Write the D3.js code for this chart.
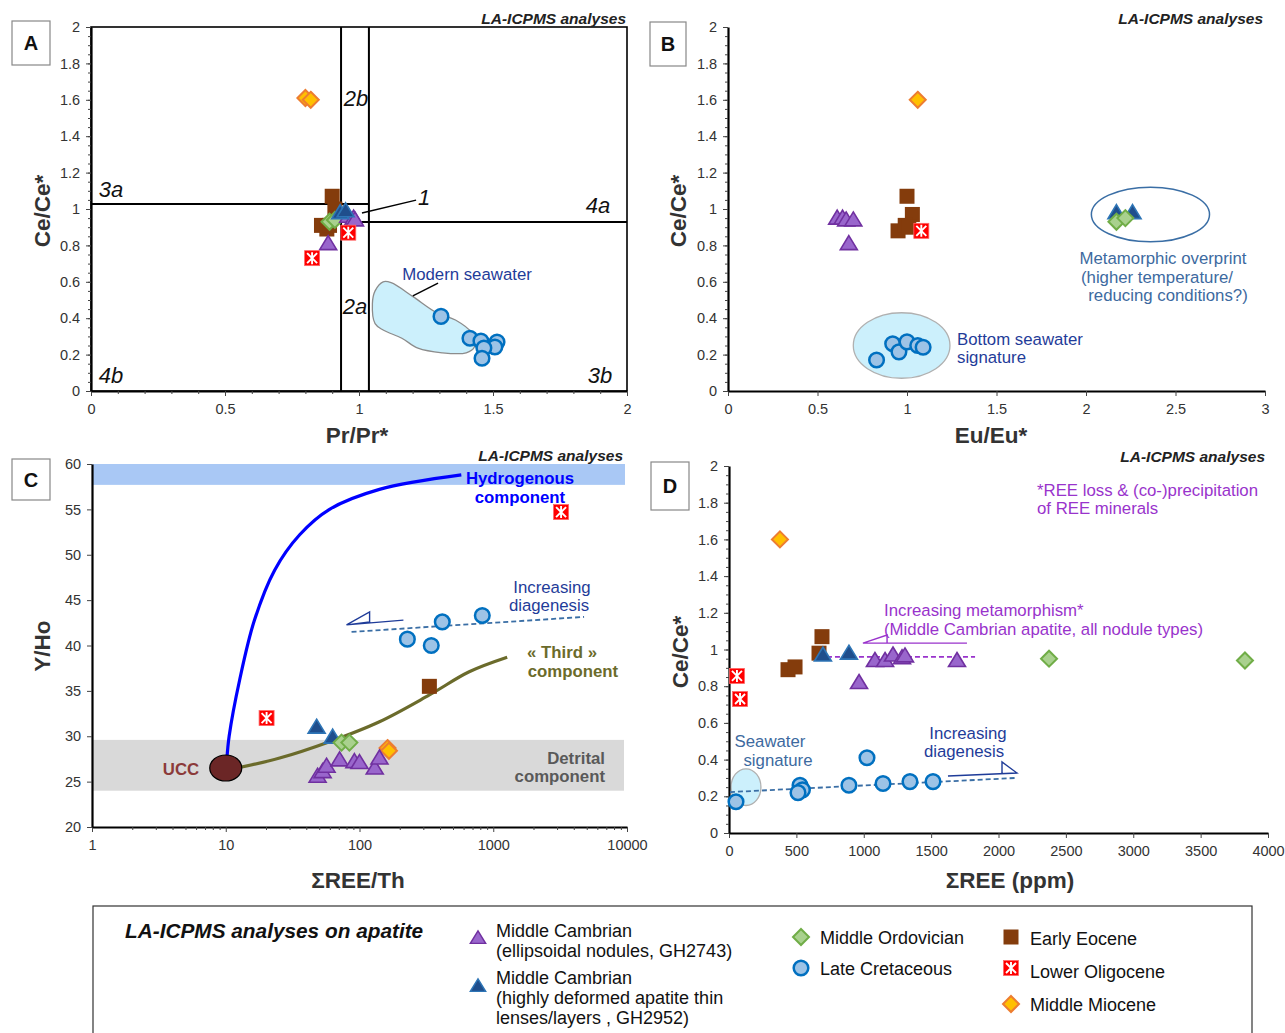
<!DOCTYPE html>
<html><head><meta charset="utf-8">
<script src="https://cdn.jsdelivr.net/npm/d3@7"></script>
<style>body{margin:0;background:#fff}text{font-family:"Liberation Sans",Arial,sans-serif}</style>
</head><body><svg id="c" width="1285" height="1033"></svg>
<script>
// ---------- DATA ----------
// Panel A: Pr/Pr* vs Ce/Ce*
const A_eocene = [[0.90,1.07],[0.91,1.00],[0.86,0.91],[0.88,0.89],[0.89,0.91]];
const A_ordov = [[0.89,0.93],[0.91,0.94]];
const A_camb1 = [[0.96,0.96],[0.98,0.95],[0.985,0.94],[0.885,0.81]];
const A_camb2 = [[0.93,0.98],[0.95,0.99]];
const A_olig = [[0.96,0.87],[0.825,0.73]];
const A_mioc = [[0.80,1.61],[0.82,1.60]];
const A_cret = [[1.306,0.41],[1.414,0.29],[1.455,0.275],[1.515,0.269],[1.507,0.242],[1.466,0.236],[1.459,0.18]];
const A_seawaterArea = [[1.09,0.60],[1.12,0.595],[1.20,0.52],[1.29,0.43],[1.36,0.39],[1.42,0.32],[1.43,0.24],[1.40,0.21],[1.31,0.21],[1.22,0.235],[1.16,0.29],[1.09,0.335],[1.06,0.37],[1.05,0.48],[1.06,0.55]];
const A_vLines = [0.933,1.037];
const A_hLines = [[0,1.037,1.027],[0.933,2,0.929]];
const A_ticksX = [0,0.5,1,1.5,2];
const A_ticksY = [0,0.2,0.4,0.6,0.8,1,1.2,1.4,1.6,1.8,2];

// Panel B: Eu/Eu* vs Ce/Ce*
const B_camb1 = [[0.61,0.95],[0.64,0.95],[0.66,0.94],[0.70,0.94],[0.675,0.81]];
const B_eocene = [[1.0,1.07],[1.03,0.97],[0.95,0.88],[0.99,0.91],[1.01,0.90]];
const B_olig = [[1.08,0.88]];
const B_mioc = [[1.06,1.60]];
const B_cret = [[0.83,0.17],[0.92,0.26],[0.955,0.215],[1.0,0.27],[1.06,0.25],[1.09,0.24]];
const B_camb2 = [[2.17,0.98],[2.26,0.98]];
const B_ordov = [[2.17,0.93],[2.22,0.95]];
const B_seawaterEllipse = [0.97,0.25,0.27,0.18];
const B_metaEllipse = [2.36,0.97,0.33,0.15];
const B_ticksX = [0,0.5,1,1.5,2,2.5,3];
const B_ticksY = A_ticksY;

// Panel C: ΣREE/Th vs Y/Ho
const C_olig = [[20.2,32.0],[3215,54.7]];
const C_eocene = [[333,35.5]];
const C_cret = [[228,40.7],[344,40.0],[416,42.6],[828,43.3]];
const C_camb2 = [[47.8,31.0],[63,29.9]];
const C_ordov = [[73.4,29.3],[84,29.3]];
const C_mioc = [[162,28.7],[166,28.4]];
const C_camb1 = [[48.6,25.6],[53,26.1],[56.7,26.7],[71,27.4],[91.6,27.2],[100,27.1],[130,26.5],[141,27.6]];
const C_hydroCurve = [[10.2,27.5],[10.6,30],[12.7,36.2],[16.4,42.8],[23.2,48.3],[35.7,52.2],[59.7,55.0],[141,57.2],[577,58.8]];
const C_thirdCurve = [[12.1,26.5],[25.3,27.6],[59.7,29.4],[141,31.6],[333,34.55],[661,37.1],[1271,38.7]];
const C_ucc = [10,26.5];
const C_hydroBand = [57.7,60];
const C_detritalBand = [24.0,29.6];
const C_diagDash = [[87.2,41.5],[4776,43.15]];
const C_diagArrow = [[213,42.8],[80,42.27],[119,43.7],[119,42.6],[80,42.27]];
const C_ticksX = [1,10,100,1000,10000];
const C_ticksY = [20,25,30,35,40,45,50,55,60];

// Panel D: ΣREE (ppm) vs Ce/Ce*
const D_mioc = [[378,1.60]];
const D_olig = [[59,0.856],[82,0.73]];
const D_eocene = [[690,1.07],[668,0.98],[438,0.89],[490,0.905]];
const D_camb2 = [[697,0.97],[890,0.98]];
const D_camb1 = [[965,0.82],[1083,0.94],[1158,0.94],[1217,0.97],[1284,0.955],[1306,0.965],[1692,0.94]];
const D_ordov = [[2375,0.95],[3829,0.94]];
const D_cret = [[52,0.17],[527,0.26],[545,0.235],[512,0.22],[890,0.26],[1143,0.27],[1343,0.28],[1514,0.28],[1024,0.41]];
const D_seawaterEllipse = [126,0.25,111,0.10];
const D_metaDash = [[727,0.96],[1826,0.96]];
const D_metaArrow = [[1766,1.035],[994,1.035],[1173,1.079],[1173,1.035]];
const D_diagDash = [[7,0.223],[2130,0.30]];
const D_diagArrow = [[1625,0.311],[2137,0.327],[2026,0.387],[2026,0.322]];
const D_ticksX = [0,500,1000,1500,2000,2500,3000,3500,4000];
const D_ticksY = A_ticksY;

// Legend
const legendItems = [
  {t:'camb1', lines:['Middle Cambrian','(ellipsoidal nodules, GH2743)']},
  {t:'camb2', lines:['Middle Cambrian','(highly deformed apatite thin','lenses/layers , GH2952)']},
  {t:'ordov', lines:['Middle Ordovician']},
  {t:'cret', lines:['Late Cretaceous']},
  {t:'eocene', lines:['Early Eocene']},
  {t:'olig', lines:['Lower Oligocene']},
  {t:'mioc', lines:['Middle Miocene']}
];

// ---------- DRAWING ----------
const svg = d3.select('#c');
const TXT = '#333';
const ANN = 16.8, AXT = 22.5, TTL = 15.5;

function marker(g, type, x, y, s=1) {
  const t = `translate(${x},${y}) scale(${s})`;
  if (type==='camb1') g.append('path').attr('d','M0,-8L8.5,6L-8.5,6Z').attr('transform',t).attr('fill','#9966cc').attr('stroke','#7030a0').attr('stroke-width',1.6);
  else if (type==='camb2') g.append('path').attr('d','M0,-8L8.5,6L-8.5,6Z').attr('transform',t).attr('fill','#1f4e8c').attr('stroke','#2e75b6').attr('stroke-width',1.6);
  else if (type==='ordov') g.append('path').attr('d','M0,-8L8,0L0,8L-8,0Z').attr('transform',t).attr('fill','#a9d18e').attr('stroke','#70ad47').attr('stroke-width',2);
  else if (type==='mioc') g.append('path').attr('d','M0,-8L8,0L0,8L-8,0Z').attr('transform',t).attr('fill','#ffc000').attr('stroke','#ed7d31').attr('stroke-width',2);
  else if (type==='cret') g.append('circle').attr('transform',t).attr('r',7.3).attr('fill','#9dc3e6').attr('stroke','#0070c0').attr('stroke-width',2.5);
  else if (type==='eocene') g.append('rect').attr('transform',t).attr('x',-7.5).attr('y',-7.5).attr('width',15).attr('height',15).attr('fill','#843c0c');
  else if (type==='olig') {
    const gg = g.append('g').attr('transform',t);
    gg.append('rect').attr('x',-7.5).attr('y',-7.5).attr('width',15).attr('height',15).attr('fill','#ff0000').attr('stroke','#ff6666').attr('stroke-width',0.8);
    gg.append('path').attr('d','M0,-6V6M-5,-5L5,5M5,-5L-5,5').attr('stroke','#fff').attr('stroke-width',1.9);
  }
}
function points(g, sx, sy, arr, type) { arr.forEach(d => marker(g, type, sx(d[0]), sy(d[1]))); }

function text(g, x, y, s, o={}) {
  const t = g.append('text').attr('x',x).attr('y',y).text(s)
    .attr('font-size',o.size||ANN).attr('fill',o.fill||TXT).attr('text-anchor',o.anchor||'start');
  if (o.bold) t.attr('font-weight','bold');
  if (o.italic) t.attr('font-style','italic');
  if (o.rotate) t.attr('transform',`rotate(${o.rotate},${x},${y})`);
  return t;
}

function axes(g, sx, sy, tx, ty, o={}) {
  const ax = g.append('g').attr('transform',`translate(0,${sy.range()[0]})`)
    .call(d3.axisBottom(sx).tickValues(tx).tickSize(5).tickSizeOuter(0).tickFormat(o.fx||(d=>d)));
  if (o.minorX) g.append('g').attr('transform',`translate(0,${sy.range()[0]})`).call(d3.axisBottom(sx).tickValues(o.minorX).tickSize(3).tickFormat('')).select('.domain').remove();
  const ay = g.append('g').attr('transform',`translate(${sx.range()[0]},0)`)
    .call(d3.axisLeft(sy).tickValues(ty).tickSize(5).tickSizeOuter(0).tickFormat(o.fy||(d=>d)));
  if (o.minorY) g.append('g').attr('transform',`translate(${sx.range()[0]},0)`).call(d3.axisLeft(sy).tickValues(o.minorY).tickSize(3).tickFormat('')).select('.domain').remove();
  [ax,ay].forEach(a=>{
    a.select('.domain').attr('stroke','#000').attr('stroke-width',2.2);
    a.selectAll('.tick text').attr('font-size',14.5).attr('fill',TXT).attr('font-family','"Liberation Sans",Arial,sans-serif');
  });
  ax.selectAll('.tick text').attr('dy','1.05em');
  ay.selectAll('.tick text').attr('dx','-0.2em');
  g.selectAll('.tick line').attr('stroke','#444');
}
function range(a,b,s){const r=[];for(let v=a;v<=b+1e-9;v+=s)r.push(+v.toFixed(4));return r;}
function panelBox(x,y,w,h,l){
  svg.append('rect').attr('x',x).attr('y',y).attr('width',w).attr('height',h).attr('fill','#fff').attr('stroke','#888').attr('stroke-width',1.2);
  text(svg,x+w/2,y+h/2+7,l,{size:20,bold:true,anchor:'middle',fill:'#111'});
}
const lineGen = (sx,sy,curve)=>d3.line().x(d=>sx(d[0])).y(d=>sy(d[1])).curve(curve||d3.curveLinear);

// ----- Panel A -----
{
  const g = svg.append('g');
  const sx = d3.scaleLinear().domain([0,2]).range([91,627]);
  const sy = d3.scaleLinear().domain([0,2]).range([391,27]);
  g.append('path').datum(A_seawaterArea).attr('d',lineGen(sx,sy,d3.curveCatmullRomClosed)).attr('fill','#ccf0fc').attr('stroke','#8c8c8c').attr('stroke-width',1.3);
  A_vLines.forEach(v=>g.append('line').attr('x1',sx(v)).attr('x2',sx(v)).attr('y1',sy(0)).attr('y2',sy(2)).attr('stroke','#000').attr('stroke-width',2));
  A_hLines.forEach(h=>g.append('line').attr('x1',sx(h[0])).attr('x2',sx(h[1])).attr('y1',sy(h[2])).attr('y2',sy(h[2])).attr('stroke','#000').attr('stroke-width',2));
  g.append('rect').attr('x',sx(0)).attr('y',sy(2)).attr('width',sx(2)-sx(0)).attr('height',sy(0)-sy(2)).attr('fill','none').attr('stroke','#000').attr('stroke-width',1.6);
  axes(g,sx,sy,A_ticksX,A_ticksY,{minorX:range(0,2,0.1),minorY:range(0,2,0.05)});
  g.append('line').attr('x1',sx(1.011)).attr('y1',sy(0.978)).attr('x2',sx(1.213)).attr('y2',sy(1.049)).attr('stroke','#000').attr('stroke-width',1.4);
  g.append('line').attr('x1',sx(1.201)).attr('y1',sy(0.522)).attr('x2',sx(1.295)).attr('y2',sy(0.593)).attr('stroke','#000').attr('stroke-width',1.4);
  points(g,sx,sy,A_eocene,'eocene');
  points(g,sx,sy,A_ordov,'ordov');
  points(g,sx,sy,A_camb1,'camb1');
  points(g,sx,sy,A_camb2,'camb2');
  points(g,sx,sy,A_olig,'olig');
  points(g,sx,sy,A_mioc,'mioc');
  points(g,sx,sy,A_cret,'cret');
  [['3a',111,197],['2b',356,106],['4a',598,213],['2a',355,314],['4b',111,383],['3b',600,383],['1',424,205]]
    .forEach(d=>text(g,d[1],d[2],d[0],{size:22,italic:true,anchor:'middle',fill:'#111'}));
  text(g,467,280,'Modern seawater',{fill:'#1f3c99',anchor:'middle'});
  text(g,626,24,'LA-ICPMS analyses',{size:TTL,bold:true,italic:true,anchor:'end',fill:'#222'});
  text(g,357,443,'Pr/Pr*',{size:AXT,bold:true,anchor:'middle'});
  text(g,50,211,'Ce/Ce*',{size:AXT,bold:true,anchor:'middle',rotate:-90});
}
// ----- Panel B -----
{
  const g = svg.append('g');
  const sx = d3.scaleLinear().domain([0,3]).range([728,1265]);
  const sy = d3.scaleLinear().domain([0,2]).range([391,27]);
  const e = B_seawaterEllipse;
  g.append('ellipse').attr('cx',sx(e[0])).attr('cy',sy(e[1])).attr('rx',sx(e[2])-sx(0)).attr('ry',sy(0)-sy(e[3])).attr('fill','#ccf0fc').attr('stroke','#b0b0b0').attr('stroke-width',1.3);
  const m = B_metaEllipse;
  g.append('ellipse').attr('cx',sx(m[0])).attr('cy',sy(m[1])).attr('rx',sx(m[2])-sx(0)).attr('ry',sy(0)-sy(m[3])).attr('fill','none').attr('stroke','#3a6ea5').attr('stroke-width',1.5);
  axes(g,sx,sy,B_ticksX,B_ticksY,{minorY:range(0,2,0.05)});
  points(g,sx,sy,B_camb1,'camb1');
  points(g,sx,sy,B_eocene,'eocene');
  points(g,sx,sy,B_olig,'olig');
  points(g,sx,sy,B_mioc,'mioc');
  points(g,sx,sy,B_cret,'cret');
  points(g,sx,sy,B_camb2,'camb2');
  points(g,sx,sy,B_ordov,'ordov');
  text(g,1163,264,'Metamorphic overprint',{fill:'#3d6aa0',anchor:'middle'});
  text(g,1157,283,'(higher temperature/',{fill:'#3d6aa0',anchor:'middle'});
  text(g,1168,301,'reducing conditions?)',{fill:'#3d6aa0',anchor:'middle'});
  text(g,957,345,'Bottom seawater',{fill:'#1f3c99'});
  text(g,957,363,'signature',{fill:'#1f3c99'});
  text(g,1263,24,'LA-ICPMS analyses',{size:TTL,bold:true,italic:true,anchor:'end',fill:'#222'});
  text(g,991,443,'Eu/Eu*',{size:AXT,bold:true,anchor:'middle'});
  text(g,686,211,'Ce/Ce*',{size:AXT,bold:true,anchor:'middle',rotate:-90});
}
// ----- Panel C -----
{
  const g = svg.append('g');
  const sx = d3.scaleLog().domain([1,10000]).range([92,627]);
  const sy = d3.scaleLinear().domain([20,60]).range([827,464]);
  g.append('rect').attr('x',sx(1)).attr('width',sx(10000)-sx(1)-2).attr('y',sy(C_hydroBand[1])).attr('height',sy(C_hydroBand[0])-sy(C_hydroBand[1])).attr('fill','#a9c8f5');
  g.append('rect').attr('x',sx(1)).attr('width',sx(10000)-sx(1)-3).attr('y',sy(C_detritalBand[1])).attr('height',sy(C_detritalBand[0])-sy(C_detritalBand[1])).attr('fill','#d9d9d9');
  const minor=[];[1,10,100,1000].forEach(p=>{for(let k=2;k<10;k++)minor.push(p*k);});
  axes(g,sx,sy,C_ticksX,C_ticksY,{minorX:minor,fx:d3.format('d')});
  g.append('path').datum(C_hydroCurve).attr('d',lineGen(sx,sy,d3.curveCatmullRom)).attr('fill','none').attr('stroke','#0000ff').attr('stroke-width',3.2);
  g.append('path').datum(C_thirdCurve).attr('d',lineGen(sx,sy,d3.curveCatmullRom)).attr('fill','none').attr('stroke','#6b6b2b').attr('stroke-width',3.2);
  g.append('path').datum(C_diagDash).attr('d',lineGen(sx,sy)).attr('fill','none').attr('stroke','#3a6ea5').attr('stroke-width',1.8).attr('stroke-dasharray','5,3');
  g.append('path').datum(C_diagArrow).attr('d',lineGen(sx,sy)).attr('fill','none').attr('stroke','#1f3c99').attr('stroke-width',1.4);
  g.append('ellipse').attr('cx',sx(C_ucc[0])).attr('cy',sy(C_ucc[1])).attr('rx',16).attr('ry',13).attr('fill','#6b2626').attr('stroke','#000').attr('stroke-width',1.2);
  points(g,sx,sy,C_olig,'olig');
  points(g,sx,sy,C_eocene,'eocene');
  points(g,sx,sy,C_cret,'cret');
  points(g,sx,sy,C_camb2,'camb2');
  points(g,sx,sy,C_ordov,'ordov');
  points(g,sx,sy,C_mioc,'mioc');
  points(g,sx,sy,C_camb1,'camb1');
  text(g,520,484,'Hydrogenous',{bold:true,fill:'#0000ff',anchor:'middle'});
  text(g,520,503,'component',{bold:true,fill:'#0000ff',anchor:'middle'});
  text(g,552,593,'Increasing',{fill:'#1f3c99',anchor:'middle'});
  text(g,549,611,'diagenesis',{fill:'#1f3c99',anchor:'middle'});
  text(g,562,658,'« Third »',{bold:true,fill:'#6b6b2b',anchor:'middle'});
  text(g,573,677,'component',{bold:true,fill:'#6b6b2b',anchor:'middle'});
  text(g,605,764,'Detrital',{bold:true,fill:'#595959',anchor:'end'});
  text(g,605,782,'component',{bold:true,fill:'#595959',anchor:'end'});
  text(g,181,775,'UCC',{bold:true,fill:'#8b3a3a',anchor:'middle'});
  text(g,623,461,'LA-ICPMS analyses',{size:TTL,bold:true,italic:true,anchor:'end',fill:'#222'});
  text(g,358,888,'ΣREE/Th',{size:AXT,bold:true,anchor:'middle'});
  text(g,50,646,'Y/Ho',{size:AXT,bold:true,anchor:'middle',rotate:-90});
}
// ----- Panel D -----
{
  const g = svg.append('g');
  const sx = d3.scaleLinear().domain([0,4000]).range([729,1268]);
  const sy = d3.scaleLinear().domain([0,2]).range([833,466]);
  const e = D_seawaterEllipse;
  g.append('ellipse').attr('cx',sx(e[0])).attr('cy',sy(e[1])).attr('rx',sx(e[2])-sx(0)).attr('ry',sy(0)-sy(e[3])).attr('fill','#ccf0fc').attr('stroke','#b0b0b0').attr('stroke-width',1.3);
  axes(g,sx,sy,D_ticksX,D_ticksY,{minorY:range(0,2,0.05)});
  g.append('path').datum(D_metaDash).attr('d',lineGen(sx,sy)).attr('fill','none').attr('stroke','#9933cc').attr('stroke-width',1.8).attr('stroke-dasharray','5,3');
  g.append('path').datum(D_metaArrow).attr('d',lineGen(sx,sy)).attr('fill','none').attr('stroke','#9933cc').attr('stroke-width',1.4);
  g.append('path').datum(D_diagDash).attr('d',lineGen(sx,sy)).attr('fill','none').attr('stroke','#3a6ea5').attr('stroke-width',1.8).attr('stroke-dasharray','5,3');
  g.append('path').datum(D_diagArrow).attr('d',lineGen(sx,sy)).attr('fill','none').attr('stroke','#1f3c99').attr('stroke-width',1.4);
  points(g,sx,sy,D_mioc,'mioc');
  points(g,sx,sy,D_olig,'olig');
  points(g,sx,sy,D_eocene,'eocene');
  points(g,sx,sy,D_camb2,'camb2');
  points(g,sx,sy,D_camb1,'camb1');
  points(g,sx,sy,D_ordov,'ordov');
  points(g,sx,sy,D_cret,'cret');
  text(g,1037,496,'*REE loss & (co-)precipitation',{fill:'#9933cc'});
  text(g,1037,514,'of REE minerals',{fill:'#9933cc'});
  text(g,884,616,'Increasing metamorphism*',{fill:'#9933cc'});
  text(g,884,635,'(Middle Cambrian apatite, all nodule types)',{fill:'#9933cc'});
  text(g,770,747,'Seawater',{fill:'#3d6aa0',anchor:'middle'});
  text(g,778,766,'signature',{fill:'#3d6aa0',anchor:'middle'});
  text(g,968,739,'Increasing',{fill:'#1f3c99',anchor:'middle'});
  text(g,964,757,'diagenesis',{fill:'#1f3c99',anchor:'middle'});
  text(g,1265,462,'LA-ICPMS analyses',{size:TTL,bold:true,italic:true,anchor:'end',fill:'#222'});
  text(g,1010,888,'ΣREE (ppm)',{size:AXT,bold:true,anchor:'middle'});
  text(g,688,652,'Ce/Ce*',{size:AXT,bold:true,anchor:'middle',rotate:-90});
}
panelBox(12,21,38,44,'A');
panelBox(650,22,36,44,'B');
panelBox(12,459,38,41,'C');
panelBox(651,462,38,48,'D');

// ----- Legend -----
{
  const g = svg.append('g');
  g.append('rect').attr('x',93).attr('y',906).attr('width',1159).attr('height',160).attr('fill','#fff').attr('stroke','#333').attr('stroke-width',1.2);
  text(g,125,938,'LA-ICPMS analyses on apatite',{size:20.8,bold:true,italic:true,fill:'#111'});
  const pos = [[478,938,496,937],[478,986,496,984],[801,937,820,944],[801,968,820,975],[1011,937,1030,945],[1011,968,1030,978],[1011,1004,1030,1011]];
  legendItems.forEach((it,i)=>{
    const p=pos[i];
    marker(g,it.t,p[0],p[1],it.t==='camb1'||it.t==='camb2'?0.9:1);
    it.lines.forEach((l,j)=>text(g,p[2],p[3]+j*20,l,{size:18,fill:'#111'}));
  });
}
</script></body></html>
